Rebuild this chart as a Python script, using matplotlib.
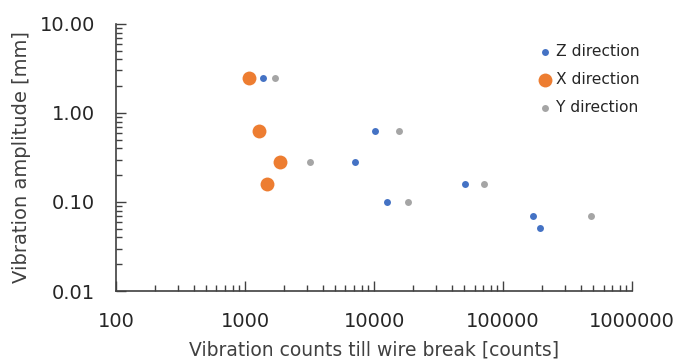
import matplotlib
matplotlib.use("Agg")
import matplotlib.pyplot as plt
from matplotlib.ticker import LogLocator, FixedLocator, NullFormatter

plt.rcParams['font.family'] = ['DejaVu Sans']

z_counts = [1370, 10100, 7060, 51000, 12500, 171000, 194000]
z_amp = [2.5, 0.63, 0.28, 0.16, 0.10, 0.07, 0.051]
x_counts = [1070, 1276, 1858, 1472]
x_amp = [2.5, 0.63, 0.28, 0.16]
y_counts = [1700, 15700, 3170, 71600, 18200, 482000]
y_amp = [2.5, 0.63, 0.28, 0.16, 0.10, 0.07]

y_ticks = [0.01, 0.1, 1, 10]
y_ticklabels = ["0.01", "0.10", "1.00", "10.00"]
x_ticks = [100, 1000, 10000, 100000, 1000000]
x_ticklabels = ["100", "1000", "10000", "100000", "1000000"]

fig = plt.figure(figsize=(6.82, 3.62), dpi=100)
ax = fig.add_axes([0.170, 0.196, 0.757, 0.738])

ax.scatter(z_counts, z_amp, s=25, color="#4472C4", label="Z direction", zorder=3, linewidths=0)
ax.scatter(x_counts, x_amp, s=100, color="#ED7D31", label="X direction", zorder=3, linewidths=0)
ax.scatter(y_counts, y_amp, s=25, color="#A5A5A5", label="Y direction", zorder=3, linewidths=0)

ax.set_xscale("log")
ax.set_yscale("log")
ax.set_xlim(100, 1000000)
ax.set_ylim(0.01, 10)

ax.xaxis.set_major_locator(FixedLocator(x_ticks))
ax.set_xticklabels(x_ticklabels)
ax.yaxis.set_major_locator(FixedLocator(y_ticks))
ax.set_yticklabels(y_ticklabels)
ax.xaxis.set_minor_locator(LogLocator(base=10, subs=range(2, 10)))
ax.yaxis.set_minor_locator(LogLocator(base=10, subs=range(2, 10)))
ax.xaxis.set_minor_formatter(NullFormatter())
ax.yaxis.set_minor_formatter(NullFormatter())

for s in ["top", "right"]:
    ax.spines[s].set_visible(False)
for s in ["left", "bottom"]:
    ax.spines[s].set_color("#404040")
    ax.spines[s].set_linewidth(1.2)

ax.tick_params(axis="both", which="major", direction="in", length=7, width=1.0,
               color="#404040", labelsize=14, labelcolor="#262626", pad=15)
ax.tick_params(axis="both", which="minor", direction="in", length=4, width=1.0,
               color="#404040")

ax.set_xlabel("Vibration counts till wire break [counts]", fontsize=13.5, color="#404040", labelpad=7)
ax.set_ylabel("Vibration amplitude [mm]", fontsize=14, color="#404040", labelpad=6)

leg = ax.legend(loc="upper left", bbox_to_anchor=(538 / 682, 1 - 44 / 362),
                bbox_transform=fig.transFigure, frameon=False,
                fontsize=11.2, handletextpad=0.25, labelspacing=0.85,
                handlelength=0.9, borderpad=0, borderaxespad=0,
                markerscale=1.0, labelcolor="#262626")

fig.savefig("out.png", dpi=100)
